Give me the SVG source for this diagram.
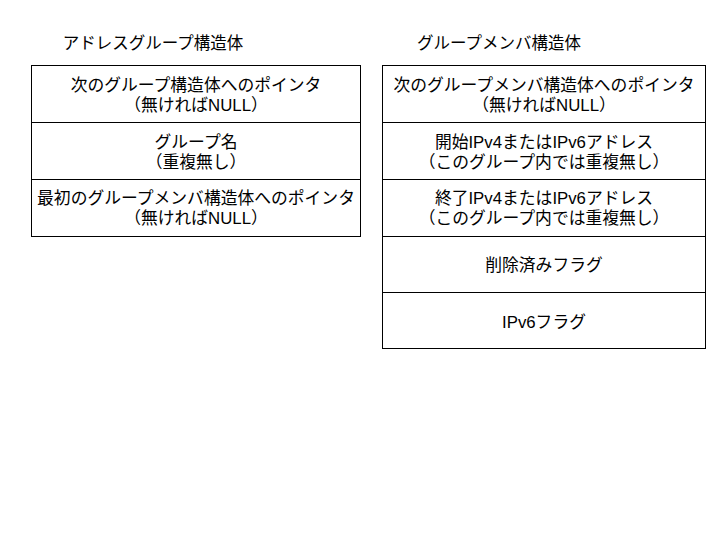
<svg xmlns="http://www.w3.org/2000/svg" width="720" height="540" viewBox="0 0 720 540">
<style>
text{font-family:"Liberation Sans","Noto Sans CJK JP",sans-serif;font-size:16.8px;fill:#000;text-anchor:middle;dominant-baseline:central}
.box{fill:#fff;stroke:#000;stroke-width:1}
.t{font-size:16.5px}
</style>
<rect width="720" height="540" fill="#fff"/>
<g id="title-left"><text class="t" x="153" y="43">アドレスグループ構造体</text></g>
<g id="title-right"><text class="t" x="499" y="43">グループメンバ構造体</text></g>
<g id="group-struct">
<g id="g-next"><rect class="box" x="31.5" y="65.5" width="329" height="57"/>
<text x="196" y="85">次のグループ構造体へのポインタ</text><text x="196" y="105">（無ければNULL）</text></g>
<g id="g-name"><rect class="box" x="31.5" y="122.5" width="329" height="57"/>
<text x="196" y="142">グループ名</text><text x="196" y="162">（重複無し）</text></g>
<g id="g-first"><rect class="box" x="31.5" y="179.5" width="329" height="57"/>
<text x="196" y="198">最初のグループメンバ構造体へのポインタ</text><text x="196" y="218">（無ければNULL）</text></g>
</g>
<g id="member-struct">
<g id="m-next"><rect class="box" x="382.5" y="65.5" width="323" height="57"/>
<text x="544" y="85">次のグループメンバ構造体へのポインタ</text><text x="544" y="105">（無ければNULL）</text></g>
<g id="m-start"><rect class="box" x="382.5" y="122.5" width="323" height="57"/>
<text x="544" y="142">開始IPv4またはIPv6アドレス</text><text x="544" y="162">（このグループ内では重複無し）</text></g>
<g id="m-end"><rect class="box" x="382.5" y="179.5" width="323" height="57"/>
<text x="544" y="198">終了IPv4またはIPv6アドレス</text><text x="544" y="218">（このグループ内では重複無し）</text></g>
<g id="m-del"><rect class="box" x="382.5" y="236.5" width="323" height="56"/>
<text x="544" y="265">削除済みフラグ</text></g>
<g id="m-v6"><rect class="box" x="382.5" y="292.5" width="323" height="56"/>
<text x="544" y="322">IPv6フラグ</text></g>
</g>
<g id="connectors"/>
</svg>
